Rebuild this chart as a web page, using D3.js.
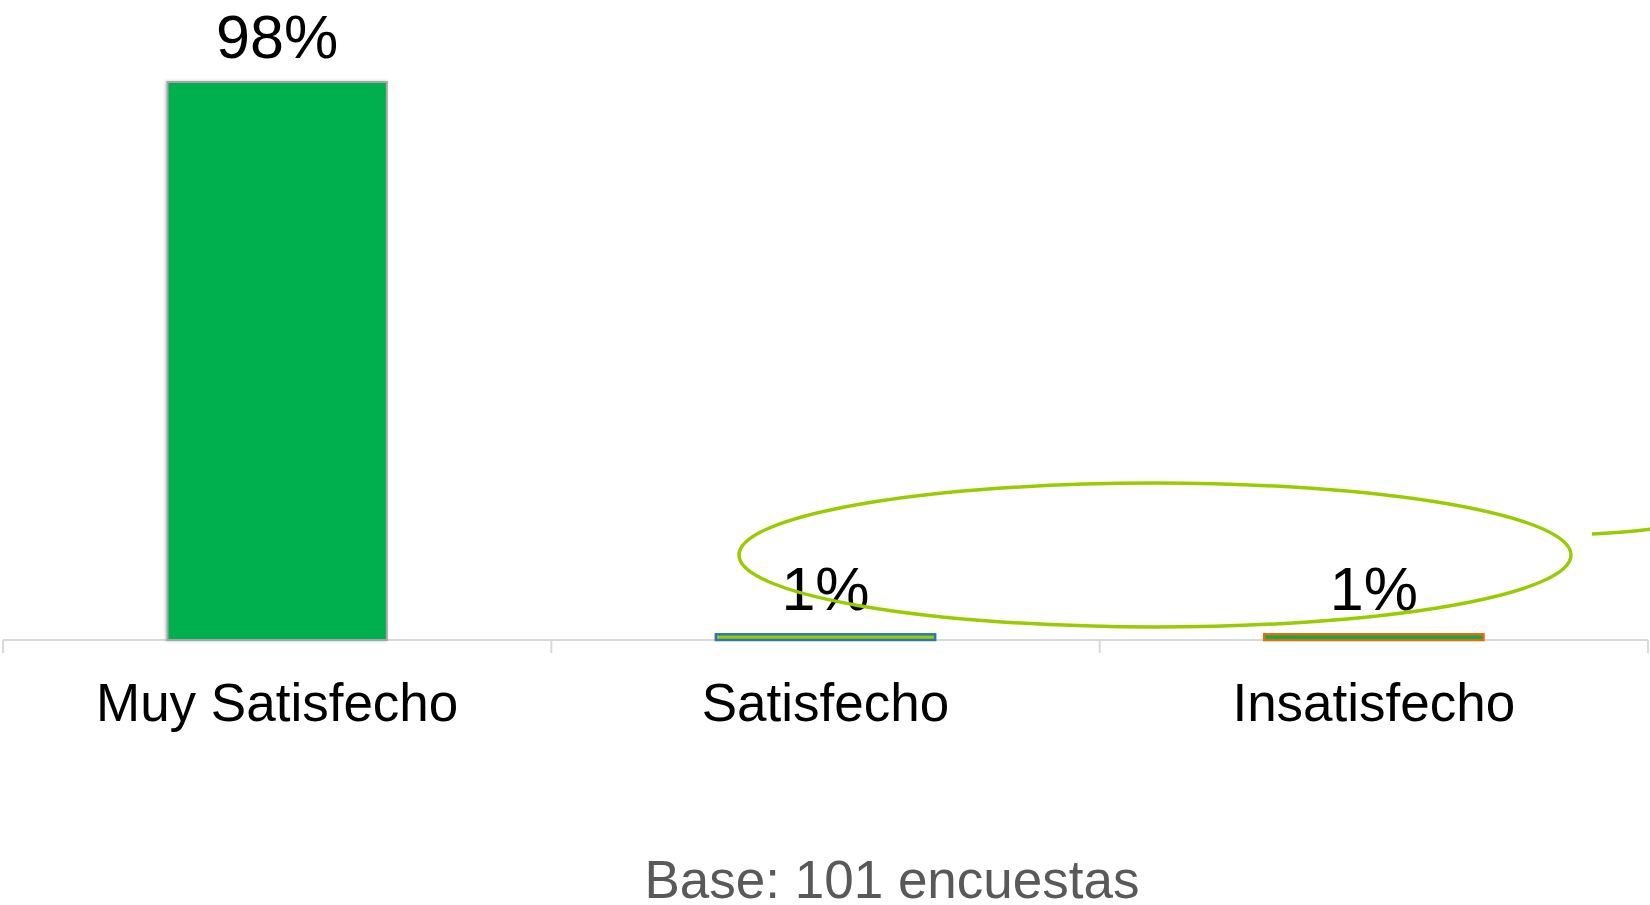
<!DOCTYPE html>
<html>
<head>
<meta charset="utf-8">
<script src="https://cdn.jsdelivr.net/npm/d3@7"></script>
<style>
  html, body { margin: 0; padding: 0; background: #fff; }
  svg { display: block; font-family: "Liberation Sans", Arial, sans-serif; }
</style>
</head>
<body>
<svg id="chart" width="1650" height="905"></svg>
<script>
// Satisfaction survey results
const categories = ["Muy Satisfecho", "Satisfecho", "Insatisfecho"];
const values = [98, 1, 1];
const valueLabels = ["98%", "1%", "1%"];
const baseNote = "Base: 101 encuestas";

// Bar styling per category
const barFills = ["#00B050", "#9ACD00", "#00B050"];
const barStrokes = ["#A6A6A6", "#2E75B6", "#E46C0A"];

const svg = d3.select("#chart");
const W = 1650, H = 905;
const plot = { left: 3, right: 1648, top: 70.6, bottom: 640 };

const x = d3.scaleBand()
  .domain(categories)
  .range([plot.left, plot.right])
  .paddingInner(0.6)
  .paddingOuter(0.3);

// band width fraction: bar occupies 40% of each category slot
const slot = (plot.right - plot.left) / categories.length;

const y = d3.scaleLinear()
  .domain([0, 100])
  .range([plot.bottom, plot.top]);

const defs = svg.append("defs");
const sh = defs.append("filter").attr("id", "shadow")
  .attr("x", "-10%").attr("y", "-10%").attr("width", "120%").attr("height", "120%");
sh.append("feDropShadow").attr("dx", -1).attr("dy", 0).attr("stdDeviation", 1.5)
  .attr("flood-color", "#000").attr("flood-opacity", 0.25);

// Category axis with tick marks at slot boundaries
const axisG = svg.append("g").attr("transform", `translate(0,${plot.bottom})`);
axisG.append("line")
  .attr("x1", plot.left).attr("x2", plot.right)
  .attr("y1", 0).attr("y2", 0)
  .attr("stroke", "#D9D9D9").attr("stroke-width", 2);
const boundaries = d3.range(categories.length + 1).map(i => plot.left + i * slot);
axisG.selectAll("line.tick")
  .data(boundaries)
  .join("line")
  .attr("class", "tick")
  .attr("x1", d => d).attr("x2", d => d)
  .attr("y1", 0).attr("y2", 13)
  .attr("stroke", "#D9D9D9").attr("stroke-width", 2);

// Bars
svg.append("g").selectAll("rect")
  .data(categories)
  .join("rect")
  .attr("x", d => x(d))
  .attr("width", x.bandwidth())
  .attr("y", (d, i) => y(values[i]))
  .attr("height", (d, i) => plot.bottom - y(values[i]))
  .attr("fill", (d, i) => barFills[i])
  .attr("stroke", (d, i) => barStrokes[i])
  .attr("stroke-width", (d, i) => i === 0 ? 2 : 2.5)
  .attr("filter", (d, i) => i === 0 ? "url(#shadow)" : null);

// Value labels
svg.append("g").selectAll("text")
  .data(categories)
  .join("text")
  .attr("x", d => x(d) + x.bandwidth() / 2)
  .attr("y", (d, i) => y(values[i]) - 24)
  .attr("text-anchor", "middle")
  .attr("font-size", 61)
  .attr("fill", "#000")
  .text((d, i) => valueLabels[i]);

// Category labels
svg.append("g").selectAll("text")
  .data(categories)
  .join("text")
  .attr("x", d => x(d) + x.bandwidth() / 2)
  .attr("y", 721)
  .attr("text-anchor", "middle")
  .attr("font-size", 53)
  .attr("fill", "#000")
  .text(d => d);

// Highlight ring around the low-scoring categories
svg.append("ellipse")
  .attr("cx", 1155).attr("cy", 555)
  .attr("rx", 416).attr("ry", 72)
  .attr("fill", "none")
  .attr("stroke", "#99CC00")
  .attr("stroke-width", 3.5);

svg.append("path")
  .attr("d", "M1592,534 Q1620,533 1652,529")
  .attr("fill", "none")
  .attr("stroke", "#99CC00")
  .attr("stroke-width", 3.5);

// Sample size note
svg.append("text")
  .attr("x", 892).attr("y", 898)
  .attr("text-anchor", "middle")
  .attr("font-size", 53)
  .attr("fill", "#595959")
  .text(baseNote);
</script>
</body>
</html>
